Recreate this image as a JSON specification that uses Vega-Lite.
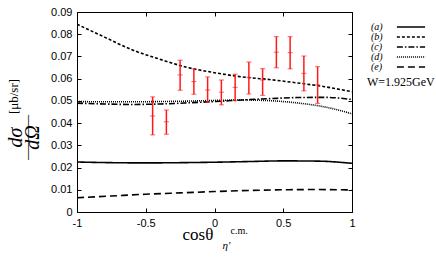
{
  "$schema": "https://vega.github.io/schema/vega-lite/v6.json",
  "width": 275,
  "height": 200,
  "autosize": {"type": "none"},
  "padding": {"left": 77, "top": 12, "right": 84, "bottom": 49},
  "background": "white",
  "datasets": {
    "curves": [
      {"curve": "(a)", "cos": -1, "dsig": 0.0225},
      {"curve": "(a)", "cos": -0.75, "dsig": 0.0222},
      {"curve": "(a)", "cos": -0.5, "dsig": 0.0221},
      {"curve": "(a)", "cos": -0.25, "dsig": 0.0222},
      {"curve": "(a)", "cos": 0, "dsig": 0.0224},
      {"curve": "(a)", "cos": 0.25, "dsig": 0.0227},
      {"curve": "(a)", "cos": 0.5, "dsig": 0.0230},
      {"curve": "(a)", "cos": 0.75, "dsig": 0.0229},
      {"curve": "(a)", "cos": 1, "dsig": 0.0219},
      {"curve": "(b)", "cos": -1, "dsig": 0.0845},
      {"curve": "(b)", "cos": -0.8, "dsig": 0.0787},
      {"curve": "(b)", "cos": -0.6, "dsig": 0.0730},
      {"curve": "(b)", "cos": -0.4, "dsig": 0.0688},
      {"curve": "(b)", "cos": -0.2, "dsig": 0.0651},
      {"curve": "(b)", "cos": 0, "dsig": 0.0627},
      {"curve": "(b)", "cos": 0.2, "dsig": 0.0608},
      {"curve": "(b)", "cos": 0.4, "dsig": 0.0596},
      {"curve": "(b)", "cos": 0.6, "dsig": 0.0581},
      {"curve": "(b)", "cos": 0.8, "dsig": 0.0564},
      {"curve": "(b)", "cos": 1, "dsig": 0.0541},
      {"curve": "(c)", "cos": -1, "dsig": 0.0490},
      {"curve": "(c)", "cos": -0.8, "dsig": 0.0486},
      {"curve": "(c)", "cos": -0.6, "dsig": 0.0484},
      {"curve": "(c)", "cos": -0.4, "dsig": 0.0486},
      {"curve": "(c)", "cos": -0.2, "dsig": 0.0491},
      {"curve": "(c)", "cos": 0, "dsig": 0.0497},
      {"curve": "(c)", "cos": 0.2, "dsig": 0.0504},
      {"curve": "(c)", "cos": 0.4, "dsig": 0.0510},
      {"curve": "(c)", "cos": 0.6, "dsig": 0.0515},
      {"curve": "(c)", "cos": 0.8, "dsig": 0.0516},
      {"curve": "(c)", "cos": 1, "dsig": 0.0506},
      {"curve": "(d)", "cos": -1, "dsig": 0.0497},
      {"curve": "(d)", "cos": -0.8, "dsig": 0.0496},
      {"curve": "(d)", "cos": -0.6, "dsig": 0.0496},
      {"curve": "(d)", "cos": -0.4, "dsig": 0.0497},
      {"curve": "(d)", "cos": -0.2, "dsig": 0.0499},
      {"curve": "(d)", "cos": 0, "dsig": 0.0502},
      {"curve": "(d)", "cos": 0.2, "dsig": 0.0504},
      {"curve": "(d)", "cos": 0.4, "dsig": 0.0501},
      {"curve": "(d)", "cos": 0.6, "dsig": 0.0491},
      {"curve": "(d)", "cos": 0.8, "dsig": 0.0473},
      {"curve": "(d)", "cos": 1, "dsig": 0.0442},
      {"curve": "(e)", "cos": -1, "dsig": 0.0064},
      {"curve": "(e)", "cos": -0.75, "dsig": 0.0072},
      {"curve": "(e)", "cos": -0.5, "dsig": 0.0080},
      {"curve": "(e)", "cos": -0.25, "dsig": 0.0086},
      {"curve": "(e)", "cos": 0, "dsig": 0.0092},
      {"curve": "(e)", "cos": 0.25, "dsig": 0.0097},
      {"curve": "(e)", "cos": 0.5, "dsig": 0.0100},
      {"curve": "(e)", "cos": 0.75, "dsig": 0.0101},
      {"curve": "(e)", "cos": 1, "dsig": 0.0099}
    ],
    "points": [
      {"cos": -0.45, "dsig": 0.0432, "lo": 0.0347, "hi": 0.0518},
      {"cos": -0.35, "dsig": 0.0406, "lo": 0.0350, "hi": 0.0459},
      {"cos": -0.25, "dsig": 0.0617, "lo": 0.0548, "hi": 0.0683},
      {"cos": -0.15, "dsig": 0.0587, "lo": 0.0530, "hi": 0.0644},
      {"cos": -0.05, "dsig": 0.0549, "lo": 0.0494, "hi": 0.0608},
      {"cos": 0.05, "dsig": 0.0539, "lo": 0.0482, "hi": 0.0594},
      {"cos": 0.15, "dsig": 0.0561, "lo": 0.0501, "hi": 0.0620},
      {"cos": 0.25, "dsig": 0.0606, "lo": 0.0531, "hi": 0.0675},
      {"cos": 0.35, "dsig": 0.0594, "lo": 0.0525, "hi": 0.0645},
      {"cos": 0.45, "dsig": 0.0719, "lo": 0.0649, "hi": 0.0789},
      {"cos": 0.55, "dsig": 0.0717, "lo": 0.0644, "hi": 0.0789},
      {"cos": 0.65, "dsig": 0.0624, "lo": 0.0545, "hi": 0.0702},
      {"cos": 0.75, "dsig": 0.0572, "lo": 0.0489, "hi": 0.0654}
    ]
  },
  "resolve": {"axis": {"x": "independent", "y": "independent"}},
  "layer": [
    {
      "data": {"name": "curves"},
      "mark": {"type": "line", "color": "black", "strokeWidth": 1.6, "interpolate": "monotone", "clip": true},
      "encoding": {
        "x": {"field": "cos", "type": "quantitative",
          "scale": {"domain": [-1, 1], "nice": false, "zero": false},
          "axis": {"orient": "bottom", "values": [-1, -0.5, 0, 0.5, 1], "labelExpr": "'' + datum.value",
            "tickSize": -4, "labelPadding": 9, "labelFlush": false,
            "title": "cosθ", "titleFont": "Liberation Serif", "titleFontSize": 17, "titleFontWeight": "normal",
            "titleX": 105, "titleY": 27, "titleAlign": "left", "titleBaseline": "alphabetic"}},
        "y": {"field": "dsig", "type": "quantitative",
          "scale": {"domain": [0, 0.09], "nice": false},
          "axis": {"orient": "left", "values": [0, 0.01, 0.02, 0.03, 0.04, 0.05, 0.06, 0.07, 0.08, 0.09],
            "labelExpr": "'' + datum.value", "tickSize": -4, "labelPadding": 9,
            "title": ["dσ", "dΩ"], "titleFont": "Liberation Serif", "titleFontStyle": "italic", "titleFontSize": 20,
            "titleFontWeight": "normal", "titleLineHeight": 17, "titleAngle": -90,
            "titleX": -62, "titleY": 125, "titleAlign": "center", "titleBaseline": "middle"}},
        "detail": {"field": "curve"},
        "strokeDash": {"field": "curve", "type": "nominal",
          "scale": {"domain": ["(a)", "(b)", "(c)", "(d)", "(e)"],
            "range": [[1, 0], [3, 2], [6, 2, 1.5, 2], [1, 1], [7, 4]]},
          "legend": {"orient": "none", "legendX": 290, "legendY": 10,
            "title": "W=1.925GeV", "titleOrient": "bottom", "titleAnchor": "start", "titleFont": "Liberation Serif",
            "titleFontSize": 12, "titleFontWeight": "normal", "titleColor": "black", "titlePadding": 5,
            "symbolType": "M-4.7,0H4.7", "symbolSize": 36, "symbolStrokeWidth": 1.6, "symbolStrokeColor": "black",
            "symbolFillColor": "transparent", "symbolOffset": 39,
            "labelFont": "Liberation Serif", "labelFontStyle": "italic", "labelFontSize": 10, "labelColor": "black",
            "labelOffset": -45, "rowPadding": -1}}
      }
    },
    {
      "data": {"name": "points"},
      "mark": {"type": "rule", "color": "#ff1a1a", "strokeWidth": 1.5},
      "encoding": {
        "x": {"field": "cos", "type": "quantitative",
          "axis": {"orient": "top", "values": [-1, -0.5, 0, 0.5, 1], "labels": false, "tickSize": -4, "title": null}},
        "y": {"field": "lo", "type": "quantitative",
          "axis": {"orient": "right", "values": [0, 0.01, 0.02, 0.03, 0.04, 0.05, 0.06, 0.07, 0.08, 0.09],
            "labels": false, "tickSize": -4, "title": null}},
        "y2": {"field": "hi"}
      }
    },
    {
      "data": {"name": "points"},
      "mark": {"type": "tick", "orient": "horizontal", "color": "#ff1a1a", "size": 5, "thickness": 1},
      "encoding": {
        "x": {"field": "cos", "type": "quantitative",
          "axis": {"orient": "bottom", "labels": false, "ticks": false, "title": "c.m.",
            "titleFont": "Liberation Serif", "titleFontSize": 10, "titleFontWeight": "normal",
            "titleX": 153, "titleY": 21, "titleAlign": "left", "titleBaseline": "alphabetic"}},
        "y": {"field": "lo", "type": "quantitative",
          "axis": {"orient": "left", "labels": false, "ticks": false, "title": "[μb/sr]",
            "titleFont": "Liberation Serif", "titleFontSize": 13, "titleFontWeight": "normal", "titleAngle": -90,
            "titleX": -64, "titleY": 84, "titleAlign": "center", "titleBaseline": "middle"}}
      }
    },
    {
      "data": {"name": "points"},
      "mark": {"type": "tick", "orient": "horizontal", "color": "#ff1a1a", "size": 5, "thickness": 1},
      "encoding": {
        "x": {"field": "cos", "type": "quantitative",
          "axis": {"orient": "bottom", "labels": false, "ticks": false, "title": "η′",
            "titleFont": "Liberation Serif", "titleFontStyle": "italic", "titleFontSize": 11, "titleFontWeight": "normal",
            "titleX": 145, "titleY": 36, "titleAlign": "left", "titleBaseline": "alphabetic"}},
        "y": {"field": "hi", "type": "quantitative",
          "axis": {"orient": "left", "labels": false, "ticks": false, "title": "———",
            "titleFont": "Liberation Serif", "titleFontSize": 15, "titleFontWeight": "normal", "titleAngle": -90,
            "titleX": -51, "titleY": 125, "titleAlign": "center", "titleBaseline": "middle"}}
      }
    },
    {
      "data": {"name": "points"},
      "mark": {"type": "tick", "orient": "horizontal", "color": "#ff1a1a", "size": 5, "thickness": 1},
      "encoding": {
        "x": {"field": "cos", "type": "quantitative", "axis": null},
        "y": {"field": "dsig", "type": "quantitative", "axis": null}
      }
    }
  ],
  "config": {
    "view": {"stroke": "black", "strokeWidth": 1},
    "axis": {"grid": false, "domain": false, "tickColor": "black", "tickWidth": 1,
      "labelFont": "Liberation Sans", "labelFontSize": 11, "labelColor": "black", "titleColor": "black"}
  }
}
